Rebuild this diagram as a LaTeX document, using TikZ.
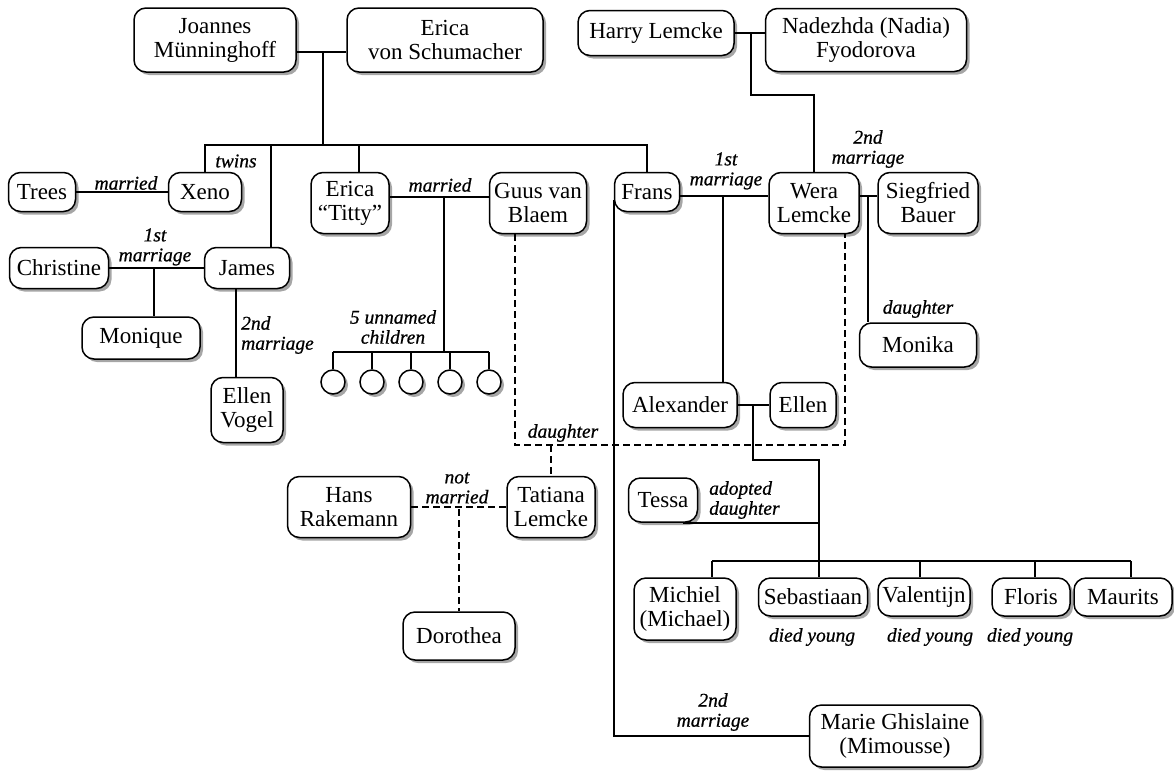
\documentclass[tikz,border=0pt]{standalone}
\usepackage{fontspec}
\setmainfont{Liberation Serif}
\newfontfamily\relfont{Liberation Serif}[ItalicFeatures={FakeBold=0.7}]
\usetikzlibrary{shadows}

\tikzset{
  person/.style={draw, line width=1.5pt, rounded corners=12pt, fill=white, align=center,
    inner sep=1pt, font=\fontsize{23}{24}\selectfont,
    drop shadow={shadow xshift=3pt, shadow yshift=-3pt, opacity=0.35, fill=black}},
  box/.style 2 args={minimum width=#1pt, minimum height=#2pt},
  kid/.style={draw, circle, line width=1.5pt, fill=white, minimum size=24pt, inner sep=0pt,
    drop shadow={shadow xshift=3pt, shadow yshift=-3pt, opacity=0.35, fill=black}},
  relation/.style={font=\fontsize{19.5}{20}\relfont\itshape, align=center, inner sep=0pt},
  link/.style={line width=1.6pt},
  unwed/.style={line width=1.6pt, dash pattern=on 7pt off 4pt},
}

\begin{document}
\begin{tikzpicture}[x=1pt, y=-1pt]
  \useasboundingbox (0,0) rectangle (1174,771);

  % first generation
  \node[person, box={162}{64}] (joannes) at (215,40) {Joannes\\Münninghoff};
  \node[person, box={196}{64}] (ericas) at (445,40) {Erica\\von Schumacher};
  \node[person, box={156}{45}] (harry) at (656,33) {Harry Lemcke};
  \node[person, box={201}{63}] (nadia) at (866,40) {Nadezhda (Nadia)\\Fyodorova};

  % second generation
  \node[person, box={67}{39}] (trees) at (42,192) {Trees};
  \node[person, box={73}{39}] (xeno) at (205,192) {Xeno};
  \node[person, box={78}{61}] (titty) at (350,203) {Erica\\“Titty”};
  \node[person, box={97}{61}] (guus) at (538,203) {Guus van\\Blaem};
  \node[person, box={65}{39}] (frans) at (647,192) {Frans};
  \node[person, box={90}{61}] (wera) at (814,203) {Wera\\Lemcke};
  \node[person, box={100}{61}] (siegfried) at (928,203) {Siegfried\\Bauer};
  \node[person, box={99}{41}] (christine) at (59,268) {Christine};
  \node[person, box={85}{41}] (james) at (247,268) {James};
  \node[person, box={118}{42}] (monique) at (141,338) {Monique};
  \node[person, box={72}{65}] (ellenv) at (247,410) {Ellen\\Vogel};
  \node[person, box={117}{44}] (monika) at (918,345) {Monika};
  \node[person, box={114}{45}] (alexander) at (680,405) {Alexander};
  \node[person, box={66}{45}] (ellen) at (803,405) {Ellen};

  % third generation
  \node[person, box={123}{61}] (hans) at (349,507) {Hans\\Rakemann};
  \node[person, box={88}{61}] (tatiana) at (551,507) {Tatiana\\Lemcke};
  \node[person, box={69}{44}] (tessa) at (663,500) {Tessa};
  \node[person, box={102}{62}] (michiel) at (685,609) {Michiel\\(Michael)};
  \node[person, box={109}{38}] (sebastiaan) at (813,597) {Sebastiaan};
  \node[person, box={92}{38}] (valentijn) at (924,597) {Valentijn};
  \node[person, box={78}{38}] (floris) at (1031,597) {Floris};
  \node[person, box={98}{38}] (maurits) at (1123,597) {Maurits};
  \node[person, box={112}{48}] (dorothea) at (459,636) {Dorothea};
  \node[person, box={171}{62}] (marie) at (895,736) {Marie Ghislaine\\(Mimousse)};
  \foreach \i/\x in {1/333, 2/372, 3/411, 4/450, 5/489}
    \node[kid] (kid\i) at (\x,382) {};

  % junctions
  \coordinate (jm) at (323,52);
  \coordinate (sib) at (323,145);
  \coordinate (jamesdrop) at (271,145);
  \coordinate (tittydrop) at (359,145);
  \coordinate (tg) at (444,197);
  \coordinate (kids) at (444,352);
  \coordinate (cj) at (154,268);
  \coordinate (hn) at (751,33);
  \coordinate (hnbend) at (751,95);
  \coordinate (fw) at (723,196);
  \coordinate (ws) at (868,196);
  \coordinate (ae) at (753,405);
  \coordinate (aebend) at (753,460);
  \coordinate (kidsv) at (819,561);
  \coordinate (dau) at (551,445);
  \coordinate (ht) at (459,509);

  % solid lines
  \draw[link] (joannes.east |- jm) -- (ericas.west |- jm);
  \draw[link] (jm) -- (sib);
  \draw[link] (xeno.north) |- (sib) -| (frans.north);
  \draw[link] (jamesdrop) -- (jamesdrop |- james.north);
  \draw[link] (tittydrop) -- (tittydrop |- titty.north);
  \draw[link] (trees) -- (xeno);
  \draw[link] (titty.east |- tg) -- (guus.west |- tg);
  \draw[link] (tg) -- (kids);
  \draw[link] (kid1.north |- kids) -- (kid5.north |- kids);
  \foreach \i in {1,...,5}
    \draw[link] (kid\i.north |- kids) -- (kid\i.north);
  \draw[link] (christine) -- (james);
  \draw[link] (cj) -- (cj |- monique.north);
  \draw[link] ([xshift=-11pt]james.south) -- ([xshift=-11pt]ellenv.north);
  \draw[link] (harry.east) -- (nadia.west |- harry.east);
  \draw[link] (hn) -- (hnbend) -| (wera.north);
  \draw[link] (frans.east |- fw) -- (wera.west |- fw);
  \draw[link] (fw) -- (fw |- alexander.north);
  \draw[link] (wera.east |- ws) -- (siegfried.west |- ws);
  \draw[link] (ws) -- (ws |- monika.north);
  \draw[link] (alexander) -- (ellen);
  \draw[link] (ae) -- (aebend) -| (kidsv |- sebastiaan.north);
  \draw[link] ([xshift=-15pt]tessa.south east) -- (tessa.south east -| kidsv);
  \draw[link] (712,561) -- (1131,561);  % children bar
  \draw[link] (712,561) -- (712,561 |- michiel.north);
  \draw[link] (920,561) -- (920,561 |- valentijn.north);
  \draw[link] (1035,561) -- (1035,561 |- floris.north);
  \draw[link] (1131,561) -- (1131,561 |- maurits.north);
  \draw[link] ([yshift=-8pt]frans.west) |- (marie.west);

  % dashed lines
  \draw[unwed] ([xshift=-23pt]guus.south) |- ([xshift=31pt]wera.south |- dau) -- ([xshift=31pt]wera.south);
  \draw[unwed] (dau) -- (tatiana.north);
  \draw[unwed] (hans) -- (tatiana);
  \draw[unwed] (ht) -- (dorothea.north);

  % labels
  \node[relation] (lmarried) at (126,183) {married};
  \node[relation] (ltwins) at (236,161) {twins};
  \node[relation] (lmarried2) at (440,185) {married};
  \node[relation] (lfirst) at (155,247) {1st\\marriage};
  \node[relation, anchor=west, align=left] (lsecond) at (241,335) {2nd\\marriage};
  \node[relation] (lunnamed) at (393,327) {5 unnamed\\children};
  \node[relation] (lfirst2) at (726,171) {1st\\marriage};
  \node[relation] (lsecond2) at (868,149) {2nd\\marriage};
  \node[relation] (ldaughter) at (918,309) {daughter};
  \node[relation] (ldaughter2) at (563,433) {daughter};
  \node[relation] (lnot) at (457,488) {not\\married};
  \node[relation, anchor=west, align=left] (ladopted) at (709,500) {adopted\\daughter};
  \node[relation] (ldied1) at (812,637) {died young};
  \node[relation] (ldied2) at (930,637) {died young};
  \node[relation] (ldied3) at (1030,637) {died young};
  \node[relation] (lsecond3) at (713,712) {2nd\\marriage};
\end{tikzpicture}
\end{document}
